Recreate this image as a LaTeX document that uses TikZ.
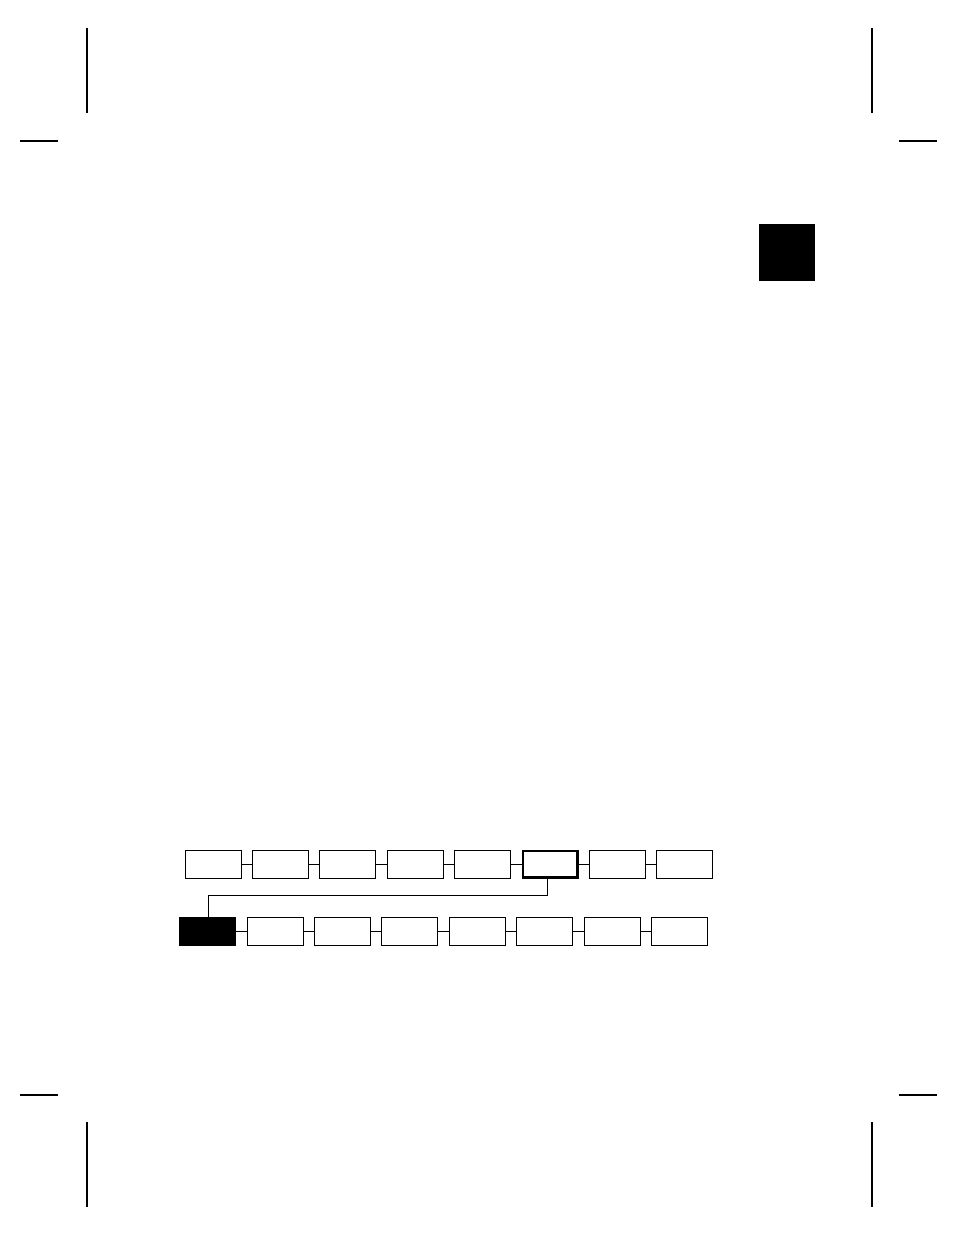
\documentclass[tikz,border=0pt]{standalone}
\begin{document}
\begin{tikzpicture}[x=1pt,y=-1pt,
  menubox/.style={draw,line width=1pt,minimum width=56pt,minimum height=28pt,inner sep=0pt,outer sep=0pt},
  selbox/.style={menubox,line width=2.6pt,minimum width=54.5pt,minimum height=26.5pt},
  darkbox/.style={menubox,fill=black},
  link/.style={line width=1pt},
  cropmark/.style={line width=2pt},
  tab/.style={fill=black,draw=none,minimum width=56pt,minimum height=56.5pt,inner sep=0pt,outer sep=0pt}]
\useasboundingbox (0,0) rectangle (954,1235);
% crop marks
\draw[cropmark] (86.5,28) -- (86.5,112.5);
\draw[cropmark] (872,28) -- (872,112.5);
\draw[cropmark] (20,140.8) -- (58,140.8);
\draw[cropmark] (899,140.8) -- (937,140.8);
\draw[cropmark] (20,1095) -- (58,1095);
\draw[cropmark] (899,1095) -- (937,1095);
\draw[cropmark] (86.5,1122) -- (86.5,1206.5);
\draw[cropmark] (872,1122) -- (872,1206.5);
% tab
\node[tab] (tabmark) at (787,252.4) {};
% top row
\foreach \i [evaluate=\i as \xx using 213.3+67.3*(\i-1)] in {1,2,3,4,5,7,8}{
  \node[menubox] (t\i) at (\xx,864.3) {};
}
\node[selbox] (t6) at (550.1,864.3) {};
\foreach \i/\j in {1/2,2/3,3/4,4/5,5/6,6/7,7/8}{
  \draw[link] (t\i.east) -- (t\j.west);
}
% bottom row
\node[darkbox] (b1) at (207.6,931.8) {};
\foreach \i [evaluate=\i as \xx using 207.6+67.4*(\i-1)] in {2,3,4,5,6,7,8}{
  \node[menubox] (b\i) at (\xx,931.8) {};
}
\foreach \i/\j in {1/2,2/3,3/4,4/5,5/6,6/7,7/8}{
  \draw[link] (b\i.east) -- (b\j.west);
}
% connector
\coordinate (bend) at (547.3,895);
\draw[link] ([xshift=-2.8pt]t6.south) -- (bend) -| ([xshift=1pt]b1.north);
\end{tikzpicture}
\end{document}
